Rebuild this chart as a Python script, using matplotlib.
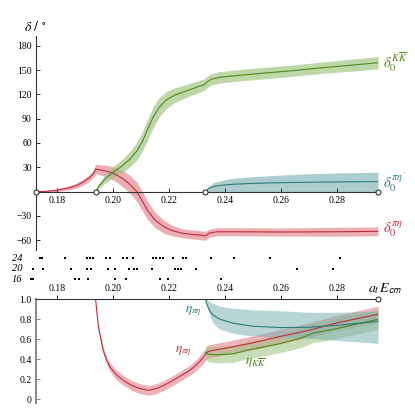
import numpy as np
import matplotlib
matplotlib.use('Agg')
import matplotlib.pyplot as plt

plt.rcParams['font.family'] = ['Liberation Serif', 'DejaVu Serif']
plt.rcParams['mathtext.fontset'] = 'stix'

# 阈值 (pi eta, K Kbar, pi eta', 右端)
eThr = [0.1725, 0.1938, 0.2330, 0.2946]

# 相移 delta_0^{pi eta}: 能量, 中心值, 半宽
ePiEta = [0.1725, 0.1760, 0.1800, 0.1840, 0.1870, 0.1895, 0.1915, 0.1930, 0.1938,
          0.1960, 0.1985, 0.2010, 0.2035, 0.2060, 0.2085, 0.2105, 0.2125, 0.2150,
          0.2180, 0.2210, 0.2250, 0.2290, 0.2320, 0.2330, 0.2345, 0.2370, 0.2450,
          0.2600, 0.2800, 0.2946]
dPiEta = [0, 0.3, 1.8, 4.5, 7.5, 12, 17, 22, 28,
          26.5, 24.5, 21, 16, 9, 0, -12, -24, -35,
          -43, -48, -51.5, -53, -54, -54.5, -51, -49.5, -49.5,
          -49.8, -49.5, -49]
wPiEta = [0.3, 0.8, 1.5, 2.5, 3.2, 3.8, 4.2, 4.5, 6,
          6.5, 7.5, 8.5, 10, 11, 12, 12, 11, 9.5,
          8, 6.5, 5.5, 5.5, 5.5, 5.5, 5, 5, 5,
          5, 5.5, 5.5]

# 相移 delta_0^{K Kbar}
eKK = [0.1938, 0.1950, 0.1970, 0.2000, 0.2030, 0.2060, 0.2085, 0.2105, 0.2125,
       0.2145, 0.2165, 0.2190, 0.2220, 0.2260, 0.2300, 0.2325, 0.2335, 0.2350,
       0.2380, 0.2450, 0.2550, 0.2650, 0.2750, 0.2850, 0.2946]
dKK = [0, 7, 15, 24, 31, 40, 50, 62, 78,
       93, 104, 113, 119, 124, 129, 132, 135, 138.5,
       141, 143.5, 146.5, 149.5, 153, 156, 159]
wKK = [1, 3, 5, 7, 8, 9.5, 11, 12, 13,
       13, 12, 10.5, 9, 8, 7.5, 7, 7, 7,
       7, 7, 7, 7, 7, 7.5, 7.5]

# 相移 delta_0^{pi eta'}: 中心, 下限, 上限
ePiEtaP = [0.2330, 0.2340, 0.2358, 0.2390, 0.2430, 0.2500, 0.2608, 0.2700, 0.2800, 0.2946]
dPiEtaP = [0, 3.5, 6.2, 8, 9.1, 10.2, 11.1, 11.6, 12, 12.3]
loPiEtaP = [0, 0, 0, 0, 0, 0, 0, 0, 0, 0]
hiPiEtaP = [0, 6, 11, 14, 16.5, 18.5, 20.6, 22, 23, 24]

# 非弹性 eta_{pi eta}
eEtaPiEta = [0.1938, 0.1942, 0.1948, 0.1957, 0.1965, 0.1977, 0.1990, 0.2010, 0.2037,
             0.2065, 0.2096, 0.2126, 0.2156, 0.2185, 0.2215, 0.2245, 0.2275, 0.2300,
             0.2320, 0.2330, 0.2340, 0.2400, 0.2500, 0.2600, 0.2700, 0.2800, 0.2946]
etaPiEta = [1.0, 0.88, 0.72, 0.60, 0.49, 0.39, 0.32, 0.25, 0.19,
            0.14, 0.107, 0.09, 0.107, 0.145, 0.19, 0.24, 0.29, 0.35,
            0.41, 0.45, 0.48, 0.51, 0.565, 0.63, 0.69, 0.765, 0.85]
wEtaPiEta = [0, 0.01, 0.02, 0.03, 0.035, 0.04, 0.045, 0.05, 0.05,
             0.05, 0.05, 0.05, 0.05, 0.05, 0.05, 0.05, 0.05, 0.055,
             0.06, 0.06, 0.065, 0.065, 0.07, 0.07, 0.075, 0.075, 0.08]

# 非弹性 eta_{K Kbar}
eEtaKK = [0.2330, 0.2340, 0.2370, 0.2430, 0.2478, 0.2549, 0.2596, 0.2668, 0.2716, 0.2787, 0.2946]
etaKK = [0.47, 0.45, 0.445, 0.455, 0.49, 0.53, 0.557, 0.61, 0.663, 0.70, 0.80]
wEtaKK = [0.07, 0.075, 0.08, 0.085, 0.085, 0.09, 0.09, 0.095, 0.095, 0.1, 0.1]

# 非弹性 eta_{pi eta'}
eEtaPiEtaP = [0.2330, 0.2335, 0.2346, 0.2358, 0.2382, 0.2430, 0.2478, 0.2500, 0.2600, 0.2700, 0.2800, 0.2946]
etaPiEtaP = [1.0, 0.95, 0.88, 0.84, 0.80, 0.76, 0.74, 0.73, 0.717, 0.72, 0.74, 0.78]
loEtaPiEtaP = [1.0, 0.93, 0.83, 0.76, 0.70, 0.66, 0.64, 0.635, 0.62, 0.61, 0.59, 0.56]
hiEtaPiEtaP = [1.0, 1.0, 0.97, 0.96, 0.93, 0.91, 0.90, 0.895, 0.885, 0.87, 0.87, 0.88]

# 格点能级 (L/a_s = 24, 20, 16)
levelL = [24, 20, 16]
levels24 = [0.17404, 0.17475, 0.18296, 0.19082, 0.19179, 0.19275, 0.1975, 0.19893,
            0.20346, 0.20511, 0.20704, 0.21429, 0.21536, 0.21679, 0.21796, 0.22143,
            0.225, 0.22596, 0.23482, 0.24321, 0.25618, 0.28114]
levels20 = [0.17132, 0.17489, 0.18511, 0.19082, 0.19204, 0.19821, 0.20082, 0.20582,
            0.2075, 0.20868, 0.21404, 0.22214, 0.22311, 0.2244, 0.22954, 0.26582, 0.27857]
levels16 = [0.17082, 0.17154, 0.18632, 0.18775, 0.19107, 0.20061, 0.20464, 0.21668,
            0.21954, 0.23857]

xTicks = [0.18, 0.20, 0.22, 0.24, 0.26, 0.28]
xTickLabels = ['0.18', '0.20', '0.22', '0.24', '0.26', '0.28']
dTicks = [-60, -30, 30, 60, 90, 120, 150, 180]
etaTicks = [0, 0.2, 0.4, 0.6, 0.8, 1.0]
etaTickLabels = ['0', '0.2', '0.4', '0.6', '0.8', '1.0']

# 颜色
redLine, redBand = '#c42a3c', '#e0838d'
greenLine, greenBand = '#4d8a1c', '#9cc27a'
tealLine, tealBand = '#2a7c7c', '#7fb3b3'
axColor = '#333333'

W, H = 415, 416
x0, x1 = 36, 378
fig = plt.figure(figsize=(W/100, H/100), dpi=100)

def band(ax, e, c, lo, hi, bc, lc, a=0.65):
    ax.fill_between(e, lo, hi, color=bc, lw=0, alpha=a)
    ax.plot(e, c, color=lc, lw=0.8)

# ---------------- 上图: 相移 ----------------
axTop = fig.add_axes([x0/W, 1-250/H, (x1-x0)/W, (250-36)/H])
axTop.set_xlim(eThr[0], eThr[-1])
axTop.set_ylim(-72, 192)
for s in ['top', 'right']:
    axTop.spines[s].set_visible(False)
axTop.spines['bottom'].set_position(('data', 0))
axTop.spines['bottom'].set_color(axColor)
axTop.spines['left'].set_color(axColor)
axTop.spines['bottom'].set_zorder(4)

e = np.array(ePiEta); d = np.array(dPiEta); w = np.array(wPiEta)
band(axTop, e, d, d-w, d+w, redBand, redLine)
e = np.array(eKK); d = np.array(dKK); w = np.array(wKK)
band(axTop, e, d, d-w, d+w, greenBand, greenLine)
band(axTop, ePiEtaP, dPiEtaP, loPiEtaP, hiPiEtaP, tealBand, tealLine)

axTop.plot(eThr, [0]*len(eThr), 'o', ms=3.6, mfc='white', mec=axColor, mew=0.8,
           clip_on=False, zorder=6)
axTop.set_xticks(xTicks)
axTop.set_xticklabels(xTickLabels)
axTop.set_yticks(dTicks)
axTop.set_yticklabels([str(t).replace('-', '\u2212') for t in dTicks])
axTop.tick_params(direction='in', length=3, width=0.7, labelsize=7, pad=3, color=axColor)

fig.text(35/W, 1-27/H, r'$\delta\ /\ ^{\circ}$', ha='center', va='center', fontsize=10)
fig.text(383/W, 1-62/H, r'$\delta_0^{K\overline{K}}$', color=greenLine, ha='left', va='center', fontsize=10.5)
fig.text(383/W, 1-182/H, r"$\delta_0^{\pi\eta'}$", color=tealLine, ha='left', va='center', fontsize=10.5)
fig.text(383/W, 1-230/H, r'$\delta_0^{\pi\eta}$', color=redLine, ha='left', va='center', fontsize=10.5)

# ---------------- 中图: 能级 ----------------
axMid = fig.add_axes([x0/W, 1-290/H, (x1-x0)/W, 40/H])
axMid.set_xlim(eThr[0], eThr[-1])
axMid.set_ylim(40, 0)
axMid.axis('off')
rowY = [8.3, 18.7, 29.3]
labX = (22 - x0)/(x1 - x0)
for L, lv, y in zip(levelL, [levels24, levels20, levels16], rowY):
    axMid.plot(lv, [y]*len(lv), 's', ms=1.7, color='black', mew=0, clip_on=False)
    axMid.text(labX, y, str(L), transform=axMid.get_yaxis_transform(),
               ha='right', va='center', fontsize=7.5, style='italic')

# ---------------- 下图: 非弹性 ----------------
axBot = fig.add_axes([x0/W, 1-403/H, (x1-x0)/W, (403-299.3)/H])
axBot.set_xlim(eThr[0], eThr[-1])
axBot.set_ylim(-0.037, 1.0)
for s in ['bottom', 'right']:
    axBot.spines[s].set_visible(False)
axBot.spines['top'].set_color(axColor)
axBot.spines['top'].set_zorder(4)
axBot.spines['left'].set_color('#8a8a8a')
axBot.spines['left'].set_linewidth(1.5)

e = np.array(eEtaPiEta); d = np.array(etaPiEta); w = np.array(wEtaPiEta)
band(axBot, e, d, d-w, d+w, redBand, redLine, 0.6)
e = np.array(eEtaKK); d = np.array(etaKK); w = np.array(wEtaKK)
band(axBot, e, d, d-w, d+w, greenBand, greenLine, 0.55)
band(axBot, eEtaPiEtaP, etaPiEtaP, loEtaPiEtaP, hiEtaPiEtaP, tealBand, tealLine, 0.55)

axBot.plot([eThr[-1]], [1.0], 'o', ms=3.6, mfc='white', mec=axColor, mew=0.8,
           clip_on=False, zorder=6)
axBot.xaxis.tick_top()
axBot.set_xticks(xTicks)
axBot.set_xticklabels(xTickLabels)
axBot.set_yticks(etaTicks)
axBot.set_yticklabels(etaTickLabels)
axBot.tick_params(axis='x', direction='out', length=3, width=0.7, labelsize=7, pad=1.5, color=axColor)
axBot.tick_params(axis='y', direction='in', length=3, width=0.7, labelsize=7, pad=3, color='#8a8a8a')

fig.text(385/W, 1-289/H, r'$a_t\,E_{\mathsf{cm}}$', ha='center', va='center', fontsize=10)
fig.text(204/W, 1-311/H, r"$\eta_{\pi\eta'}$", color=tealLine, ha='right', va='center', fontsize=9.5)
fig.text(192/W, 1-351/H, r'$\eta_{\pi\eta}$', color=redLine, ha='right', va='center', fontsize=9.5)
fig.text(245/W, 1-363/H, r'$\eta_{K\overline{K}}$', color=greenLine, ha='left', va='center', fontsize=9.5)

fig.savefig('out.png', dpi=100)
